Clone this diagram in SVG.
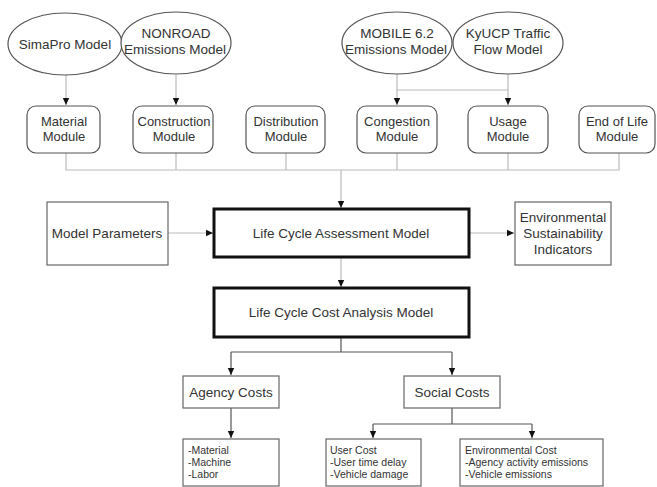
<svg xmlns="http://www.w3.org/2000/svg" width="657" height="487" viewBox="0 0 657 487">
<style>
text{font-family:"Liberation Sans",Arial,sans-serif;fill:#333;text-anchor:middle}
.big{font-size:13.5px}
.mod{font-size:13px}
.sm{font-size:10.5px;text-anchor:start}
.ell{fill:#fff;stroke:#555;stroke-width:1.2}
.mbox{fill:#fff;stroke:#555;stroke-width:1.2}
.box{fill:#fff;stroke:#666;stroke-width:1.2}
.thick{fill:#fff;stroke:#111;stroke-width:3}
.cl{fill:none;stroke:#bbb;stroke-width:1.2}
.cd{fill:none;stroke:#555;stroke-width:1.2}
</style>
<defs>
<marker id="ah" markerWidth="8" markerHeight="8" refX="7" refY="4" orient="auto" markerUnits="userSpaceOnUse">
<path d="M0,0.8 L7,4 L0,7.2 Z" fill="#111"/>
</marker>
</defs>
<rect width="657" height="487" fill="#fff"/>
<g id="connectors">
<path class="cl" d="M66,75 V105" marker-end="url(#ah)"/>
<path class="cl" d="M176,75 V105" marker-end="url(#ah)"/>
<path class="cl" d="M397,74 V90 H508 M508,74 V90"/>
<path class="cl" d="M397,90 V105" marker-end="url(#ah)"/>
<path class="cl" d="M508,90 V105" marker-end="url(#ah)"/>
<path class="cl" d="M66,153 V170 H619 V153 M176,153 V170 M286,153 V170 M397,153 V170 M508,153 V170"/>
<path class="cl" d="M341,170 V208" marker-end="url(#ah)"/>
<path class="cl" d="M168,233 H213" marker-end="url(#ah)"/>
<path class="cl" d="M469,233 H514" marker-end="url(#ah)"/>
<path class="cl" d="M341,257 V287" marker-end="url(#ah)"/>
<path class="cd" d="M341,337 V352 M231,352 H452"/>
<path class="cd" d="M231,352 V375" marker-end="url(#ah)"/>
<path class="cd" d="M452,352 V375" marker-end="url(#ah)"/>
<path class="cd" d="M231,408 V438" marker-end="url(#ah)"/>
<path class="cd" d="M452,408 V424 M373,424 H532"/>
<path class="cd" d="M373,424 V438" marker-end="url(#ah)"/>
<path class="cd" d="M532,424 V438" marker-end="url(#ah)"/>
</g>
<g id="simapro"><ellipse class="ell" cx="65" cy="44" rx="57" ry="31"/><text class="big" x="65" y="49">SimaPro Model</text></g>
<g id="nonroad"><ellipse class="ell" cx="176" cy="43" rx="55" ry="31"/><text class="big" x="176" y="38">NONROAD</text><text class="big" x="175" y="54">Emissions Model</text></g>
<g id="mobile"><ellipse class="ell" cx="397" cy="43" rx="55" ry="31"/><text class="big" x="397" y="38">MOBILE 6.2</text><text class="big" x="396" y="54">Emissions Model</text></g>
<g id="kyucp"><ellipse class="ell" cx="508" cy="43" rx="55" ry="31"/><text class="big" x="508" y="38">KyUCP Traffic</text><text class="big" x="508" y="54">Flow Model</text></g>
<g id="material"><rect class="mbox" x="27" y="106" width="73" height="47" rx="9"/><text class="mod" x="64" y="126">Material</text><text class="mod" x="64" y="141">Module</text></g>
<g id="construction"><rect class="mbox" x="133" y="106" width="80" height="47" rx="9"/><text class="mod" x="174" y="126">Construction</text><text class="mod" x="174" y="141">Module</text></g>
<g id="distribution"><rect class="mbox" x="246" y="106" width="79" height="47" rx="9"/><text class="mod" x="286" y="126">Distribution</text><text class="mod" x="286" y="141">Module</text></g>
<g id="congestion"><rect class="mbox" x="357" y="106" width="80" height="47" rx="9"/><text class="mod" x="397" y="126">Congestion</text><text class="mod" x="397" y="141">Module</text></g>
<g id="usage"><rect class="mbox" x="468" y="106" width="80" height="47" rx="9"/><text class="mod" x="508" y="126">Usage</text><text class="mod" x="508" y="141">Module</text></g>
<g id="endoflife"><rect class="mbox" x="579" y="106" width="76" height="47" rx="9"/><text class="mod" x="617" y="126">End of Life</text><text class="mod" x="617" y="141">Module</text></g>
<g id="params"><rect class="box" x="47" y="202" width="121" height="63"/><text class="big" x="107" y="238">Model Parameters</text></g>
<g id="lca"><rect class="thick" x="214" y="209" width="255" height="48"/><text class="big" x="341" y="238">Life Cycle Assessment Model</text></g>
<g id="esi"><rect class="box" x="515" y="202" width="96" height="63"/><text class="big" x="563" y="222">Environmental</text><text class="big" x="563" y="238">Sustainability</text><text class="big" x="563" y="254">Indicators</text></g>
<g id="lcca"><rect class="thick" x="214" y="288" width="255" height="49"/><text class="big" x="341" y="317">Life Cycle Cost Analysis Model</text></g>
<g id="agency"><rect class="box" x="183" y="376" width="96" height="32"/><text class="big" x="231" y="397">Agency Costs</text></g>
<g id="social"><rect class="box" x="404" y="376" width="96" height="32"/><text class="big" x="452" y="397">Social Costs</text></g>
<g id="agencylist"><rect class="box" x="183" y="439" width="96" height="47"/><text class="sm" x="188" y="454">-Material</text><text class="sm" x="188" y="466">-Machine</text><text class="sm" x="188" y="478">-Labor</text></g>
<g id="usercost"><rect class="box" x="326" y="439" width="95" height="47"/><text class="sm" x="330" y="454">User Cost</text><text class="sm" x="330" y="466">-User time delay</text><text class="sm" x="330" y="478">-Vehicle damage</text></g>
<g id="envcost"><rect class="box" x="460" y="439" width="143" height="47"/><text class="sm" x="465" y="454">Environmental Cost</text><text class="sm" x="465" y="466">-Agency activity emissions</text><text class="sm" x="465" y="478">-Vehicle emissions</text></g>
</svg>
